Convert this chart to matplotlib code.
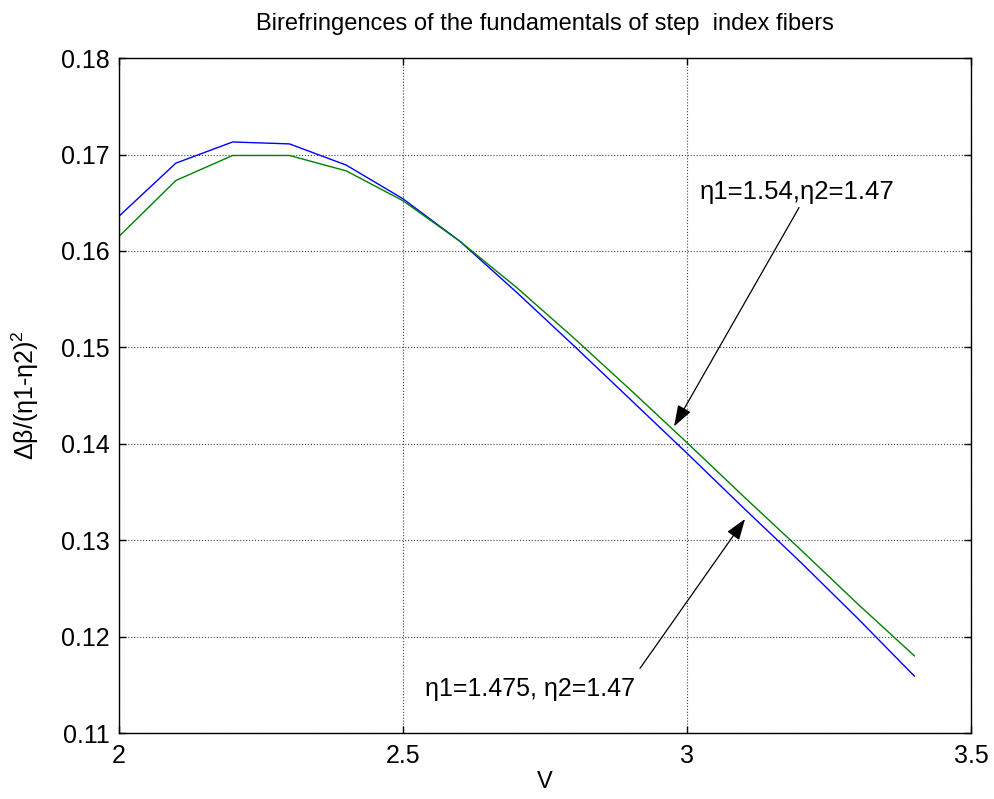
import numpy as np
from matplotlib import pyplot as plt

plt.rcParams['font.family'] = ['Liberation Sans', 'DejaVu Sans']
plt.rcParams['mathtext.default'] = 'regular'

V = [2.0, 2.1, 2.2, 2.3, 2.4, 2.5, 2.6, 2.7, 2.8, 2.9, 3.0, 3.1, 3.2, 3.3, 3.4]
# eta1=1.475, eta2=1.47
b_small = [0.1636, 0.1691, 0.1713, 0.1711, 0.1689, 0.1654, 0.1610, 0.1557,
           0.1502, 0.1446, 0.1390, 0.1333, 0.1277, 0.1219, 0.1159]
# eta1=1.54, eta2=1.47
b_large = [0.1615, 0.1673, 0.1699, 0.1699, 0.1683, 0.1652, 0.1610, 0.1562,
           0.1510, 0.1456, 0.1401, 0.1345, 0.1290, 0.1234, 0.1180]

fig = plt.figure(figsize=(9.95, 7.99), dpi=100)
ax = fig.add_axes([0.1196, 0.0826, 0.8565, 0.8447])

ax.plot(V, b_small, color=(0, 0, 1), lw=1.0)
ax.plot(V, b_large, color=(0, 0.5, 0), lw=1.0)

ax.set_xlim(2, 3.5)
ax.set_ylim(0.11, 0.18)
ax.set_xticks([2, 2.5, 3, 3.5])
ax.set_xticklabels(['2', '2.5', '3', '3.5'])
yt = np.arange(0.11, 0.1801, 0.01)
ax.set_yticks(yt)
ax.set_yticklabels(['%.2f' % t for t in yt])
ax.tick_params(direction='in', top=True, right=True, length=5, width=1, labelsize=18)
ax.tick_params(axis='x', pad=8)
ax.tick_params(axis='y', pad=7)
ax.grid(True, linestyle=':', color='#444444', lw=0.8)
for s in ax.spines.values():
    s.set_linewidth(1.0)

ax.set_title('Birefringences of the fundamentals of step  index fibers', fontsize=17, pad=20)
ax.set_xlabel('V', fontsize=17, labelpad=2)
ax.set_ylabel('Δβ/(η1-η2)$^2$', fontsize=18)
ax.yaxis.set_label_coords(-0.092, 0.5)

arrow = dict(arrowstyle='-|>,head_length=1.3,head_width=0.45', color='k', lw=0.9,
             shrinkA=0, shrinkB=0)
ax.text(3.194, 0.1661, 'η1=1.54,η2=1.47', fontsize=18.5, ha='center', va='center')
ax.annotate('', xy=(2.977, 0.1418), xytext=(3.197, 0.1645), arrowprops=arrow)
ax.text(2.724, 0.1146, 'η1=1.475, η2=1.47', fontsize=18, ha='center', va='center')
ax.annotate('', xy=(3.102, 0.1322), xytext=(2.917, 0.1167), arrowprops=arrow)

fig.savefig('out.png', dpi=100)
